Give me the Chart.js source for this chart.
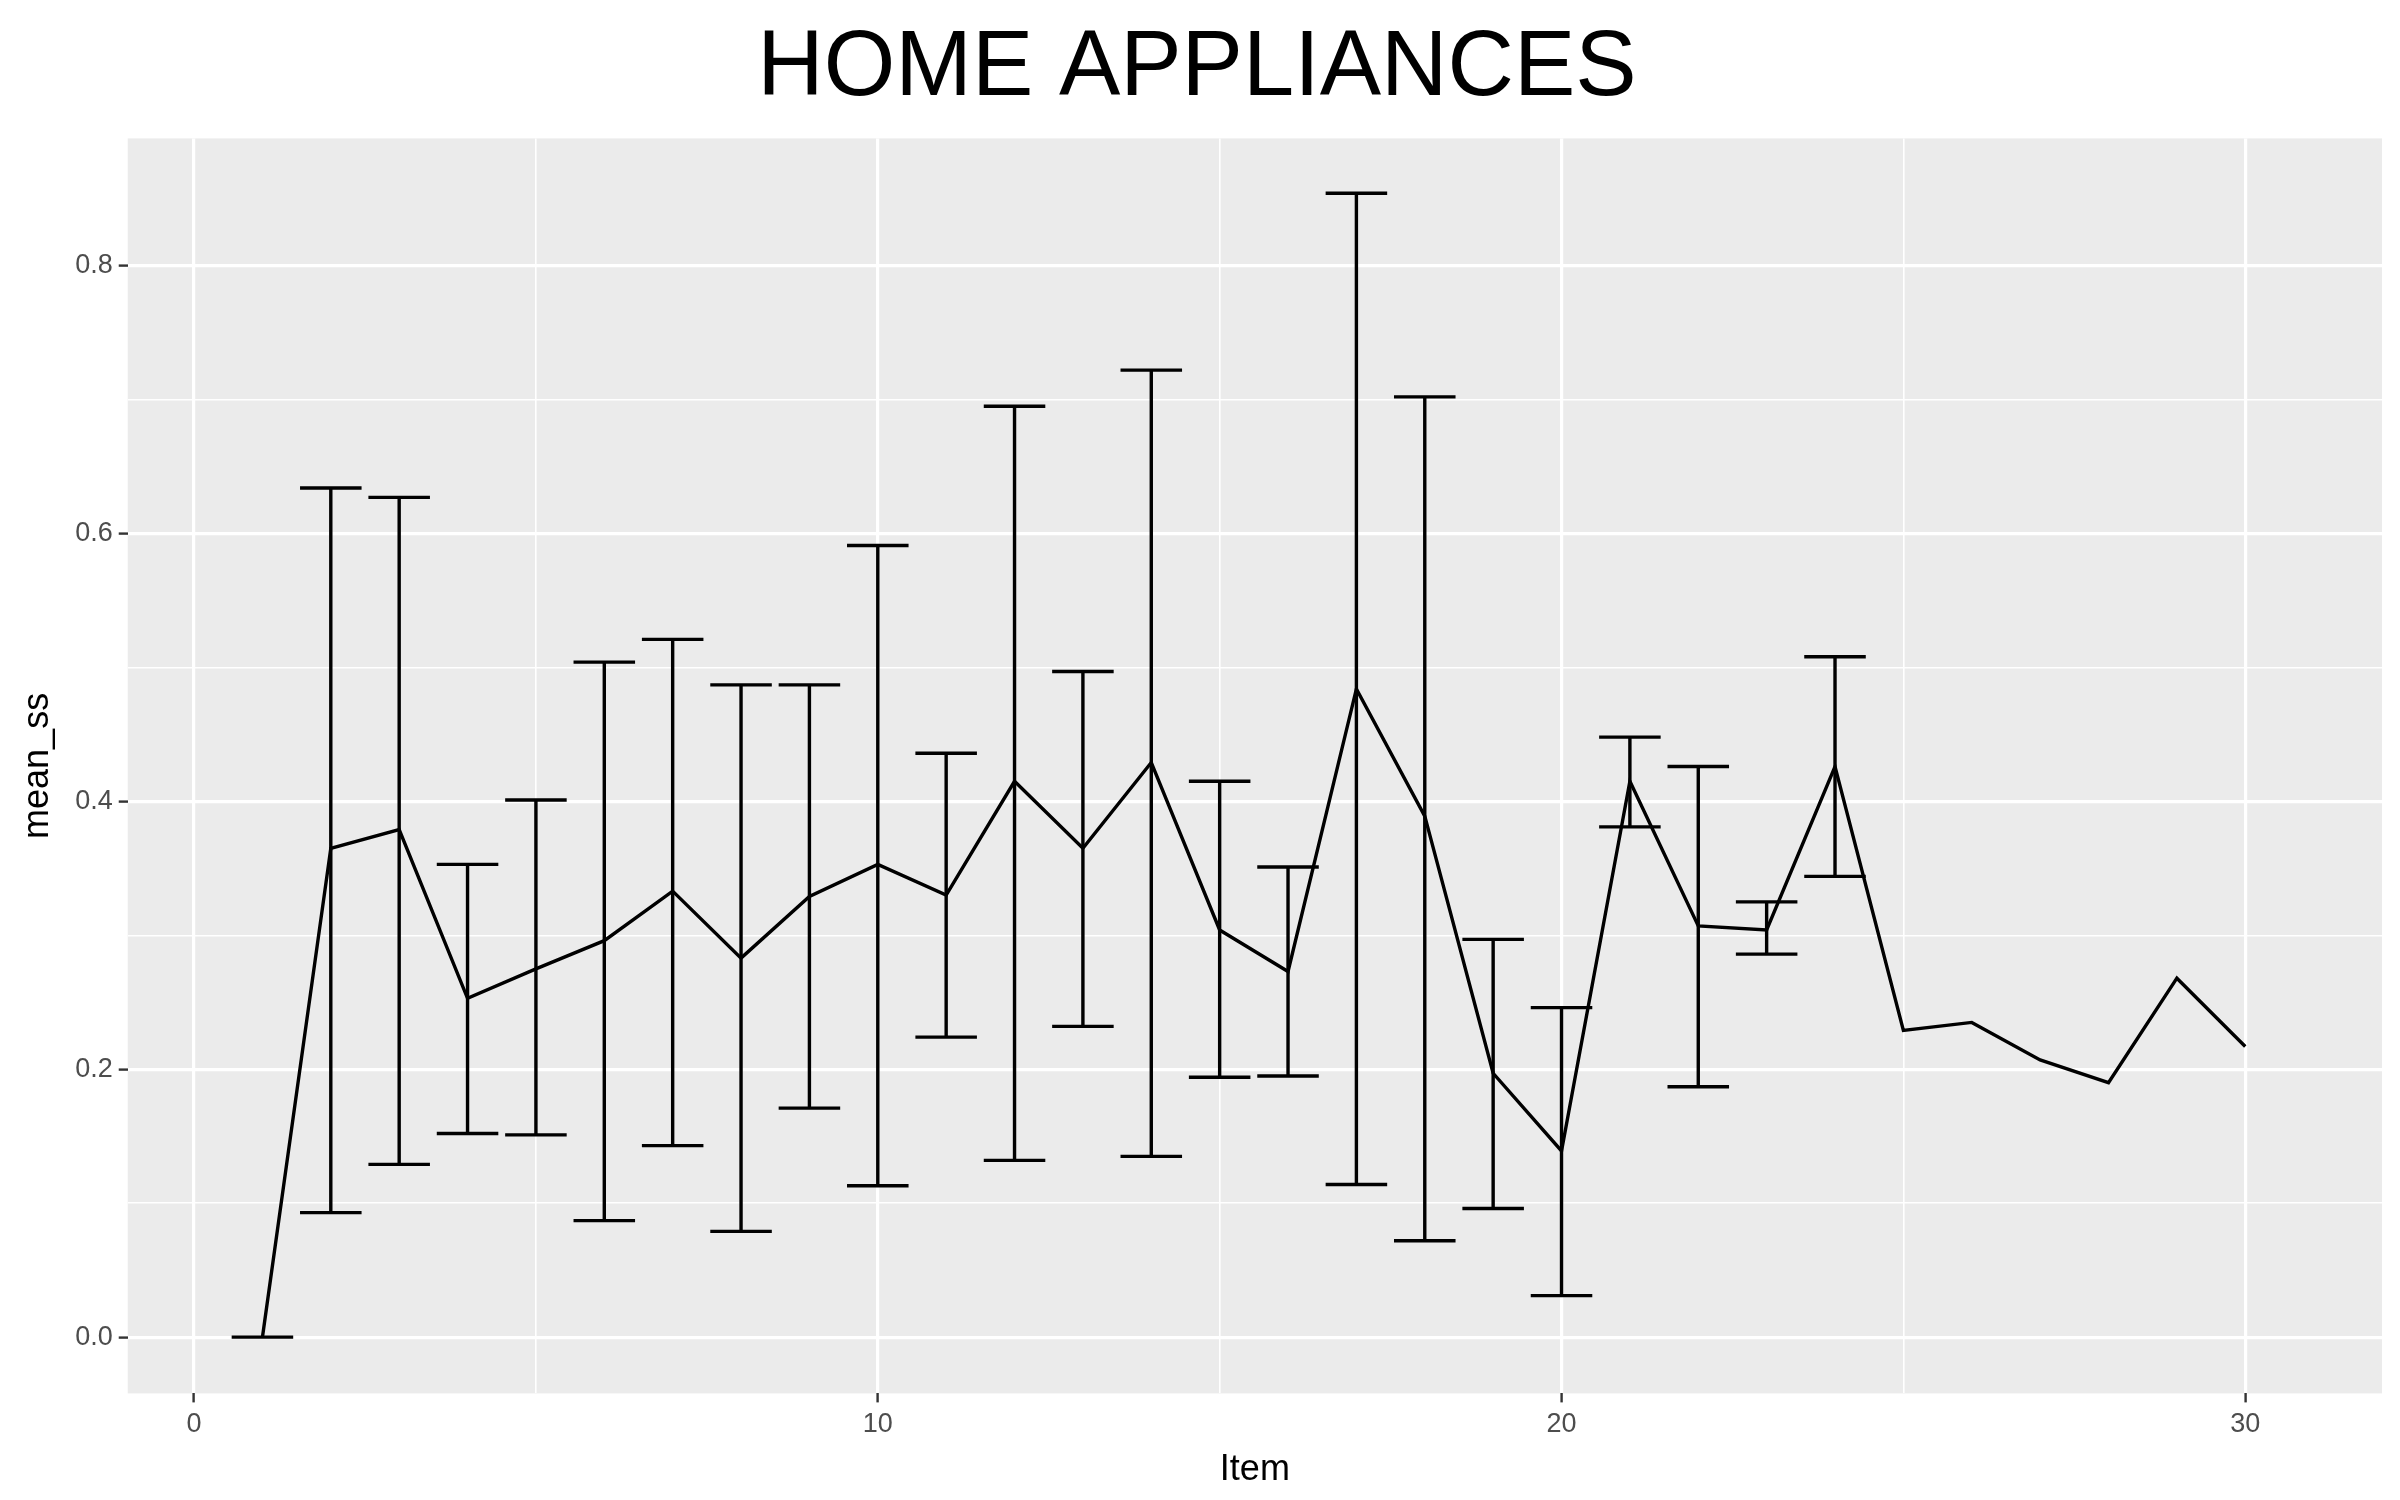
<!DOCTYPE html>
<html>
<head>
<meta charset="utf-8">
<script src="https://cdn.jsdelivr.net/npm/chart.js@4/dist/chart.umd.min.js"></script>
<style>
  html, body { margin: 0; padding: 0; background: #fff; }
  #wrap { width: 2400px; height: 1500px; }
</style>
</head>
<body>
<div id="wrap"><canvas id="chart" width="2400" height="1500"></canvas></div>
<script>
// data
const items = [1,2,3,4,5,6,7,8,9,10,11,12,13,14,15,16,17,18,19,20,21,22,23,24,25,26,27,28,29,30];
const meanSS = [0,0.365,0.379,0.253,0.275,0.296,0.333,0.283,0.329,0.353,0.330,0.415,0.365,0.429,0.304,0.273,0.484,0.389,0.197,0.139,0.415,0.307,0.304,0.426,0.229,0.235,0.207,0.190,0.268,0.217];
const lowerSS = [0,0.093,0.129,0.152,0.151,0.087,0.143,0.079,0.171,0.113,0.224,0.132,0.232,0.135,0.194,0.195,0.114,0.072,0.096,0.031,0.381,0.187,0.286,0.344,null,null,null,null,null,null];
const upperSS = [0,0.634,0.627,0.353,0.401,0.504,0.521,0.487,0.487,0.591,0.436,0.695,0.497,0.722,0.415,0.351,0.854,0.702,0.297,0.246,0.448,0.426,0.325,0.508,null,null,null,null,null,null];
const capHalf = 0.45;

// panel background
const panelBg = {
  id: 'panelBg',
  beforeDraw(chart) {
    const a = chart.chartArea, ctx = chart.ctx;
    ctx.save();
    ctx.fillStyle = '#EBEBEB';
    ctx.fillRect(a.left, a.top, a.right - a.left, a.bottom - a.top);
    ctx.restore();
  }
};

// error bars drawn through the scales
const errorBars = {
  id: 'errorBars',
  afterDatasetsDraw(chart) {
    const x = chart.scales.x, y = chart.scales.y, ctx = chart.ctx;
    ctx.save();
    ctx.strokeStyle = '#000';
    ctx.lineWidth = 3.4;
    items.forEach((it, i) => {
      if (lowerSS[i] === null) return;
      const px = x.getPixelForValue(it);
      const pl = x.getPixelForValue(it - capHalf), pr = x.getPixelForValue(it + capHalf);
      const lo = y.getPixelForValue(lowerSS[i]), hi = y.getPixelForValue(upperSS[i]);
      ctx.beginPath();
      ctx.moveTo(px, lo); ctx.lineTo(px, hi);
      ctx.moveTo(pl, lo); ctx.lineTo(pr, lo);
      ctx.moveTo(pl, hi); ctx.lineTo(pr, hi);
      ctx.stroke();
    });
    ctx.restore();
  }
};

const tickFont = { family: 'Liberation Sans', size: 27 };
const isMajorX = v => Math.abs(v % 10) < 1e-6;
const isMajorY = v => Math.abs(Math.round(v * 10) % 2) === 0;

new Chart(document.getElementById('chart'), {
  type: 'line',
  data: {
    datasets: [{
      data: items.map((it, i) => ({ x: it, y: meanSS[i] })),
      borderColor: '#000',
      borderWidth: 3.4,
      pointRadius: 0,
      tension: 0
    }]
  },
  options: {
    responsive: false,
    animation: false,
    layout: { padding: { left: 12, right: 18, top: 0, bottom: 4 } },
    plugins: {
      legend: { display: false },
      tooltip: { enabled: false },
      title: {
        display: true,
        text: 'HOME APPLIANCES',
        color: '#000',
        font: { family: 'Liberation Sans', size: 92, weight: 'normal' },
        padding: { top: 14, bottom: 14 }
      }
    },
    scales: {
      x: {
        type: 'linear',
        min: -0.97,
        max: 32,
        afterBuildTicks(scale) {
          scale.ticks = [0,5,10,15,20,25,30].map(v => ({ value: v }));
        },
        ticks: {
          color: '#4D4D4D',
          font: tickFont,
          padding: 6,
          autoSkip: false,
          maxRotation: 0,
          callback: v => isMajorX(v) ? String(v) : ''
        },
        grid: {
          color: c => '#FFFFFF',
          lineWidth: c => isMajorX(c.tick.value) ? 3.2 : 1.6,
          tickColor: c => isMajorX(c.tick.value) ? '#333333' : 'rgba(0,0,0,0)',
          tickLength: 9,
          tickWidth: 2.4
        },
        border: { display: false },
        title: {
          display: true,
          text: 'Item',
          color: '#000',
          font: { family: 'Liberation Sans', size: 36 },
          padding: { top: 2 }
        }
      },
      y: {
        min: -0.042,
        max: 0.895,
        afterBuildTicks(scale) {
          scale.ticks = [0,0.1,0.2,0.3,0.4,0.5,0.6,0.7,0.8].map(v => ({ value: v }));
        },
        ticks: {
          color: '#4D4D4D',
          font: tickFont,
          padding: 6,
          autoSkip: false,
          callback: v => isMajorY(v) ? v.toFixed(1) : ''
        },
        grid: {
          color: '#FFFFFF',
          lineWidth: c => isMajorY(c.tick.value) ? 3.2 : 1.6,
          tickColor: c => isMajorY(c.tick.value) ? '#333333' : 'rgba(0,0,0,0)',
          tickLength: 9,
          tickWidth: 2.4
        },
        border: { display: false },
        title: {
          display: true,
          text: 'mean_ss',
          color: '#000',
          font: { family: 'Liberation Sans', size: 36 },
          padding: { bottom: 10 }
        }
      }
    }
  },
  plugins: [panelBg, errorBars]
});
</script>
</body>
</html>
